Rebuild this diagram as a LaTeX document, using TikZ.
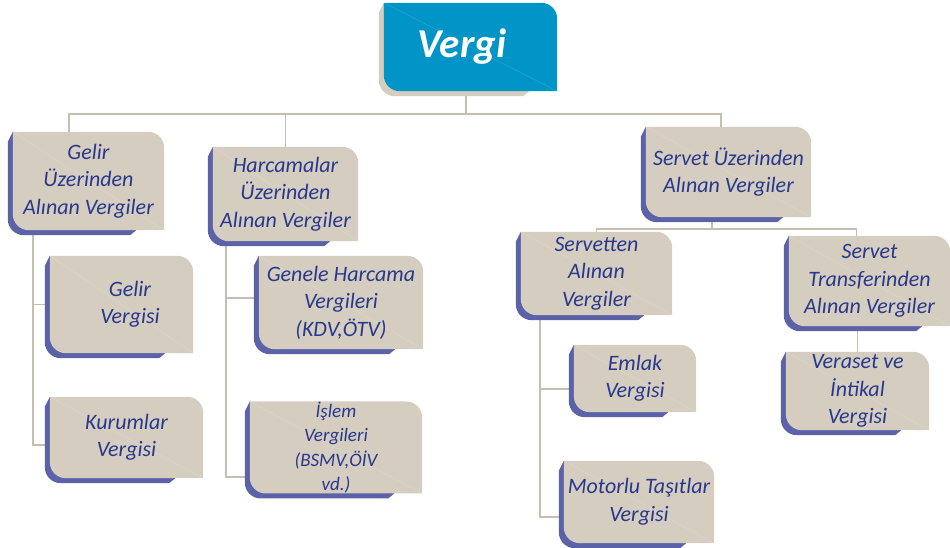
\documentclass[tikz,border=0pt]{standalone}
\usepackage{fontspec}
\setmainfont{Carlito}
\usetikzlibrary{backgrounds}
\pgfdeclarelayer{arka}
\pgfsetlayers{arka,background,main}

\definecolor{kutubej}{RGB}{213,205,191}
\definecolor{golgemavi}{RGB}{92,98,168}
\definecolor{yazimavi}{RGB}{40,56,140}
\definecolor{anamavi}{RGB}{0,148,199}
\definecolor{cizgibej}{RGB}{198,190,176}

% box: shadow, fill with two round corners, faint diagonal
\newcommand{\kutuciz}[3]{%
  \begin{pgfonlayer}{background}
    \fill[#3] ([xshift=-5pt,yshift=-10pt]#1.north west) -- ([xshift=-5pt,yshift=11pt]#1.south west)
      arc[start angle=180,end angle=270,radius=16pt] -- ([xshift=-34pt,yshift=-5pt]#1.south east)
      -- ([xshift=-28pt]#1.south east) -- (#1.north west) -- cycle;
    \fill[#2] (#1.north west) -- ([xshift=-16pt]#1.north east)
      arc[start angle=90,end angle=0,radius=16pt] -- (#1.south east)
      -- ([xshift=16pt]#1.south west) arc[start angle=270,end angle=180,radius=16pt] -- cycle;
    \draw[white, opacity=0.2, line width=0.4pt] (#1.north west) -- (#1.south east);
  \end{pgfonlayer}}

\begin{document}
\begin{tikzpicture}[x=1pt, y=1pt,
    kutu/.style={align=center, inner sep=0pt, text=yazimavi,
      font=\fontsize{22}{27.5}\selectfont\itshape},
    baglanti/.style={cizgibej, line width=1.5pt}]
  \useasboundingbox (0,0) rectangle (950,548);
  % TOP
  \node[align=center, inner sep=0pt, text=white, font=\fontsize{41}{41}\selectfont\bfseries\itshape,
    minimum width=173pt, minimum height=88pt] (vergi) at (470.5,501) {\hspace*{-17pt}Vergi};
  \kutuciz{vergi}{anamavi}{kutubej}
  % FIRST ROW
  \node[kutu, minimum width=151pt, minimum height=98pt] (gelir) at (88.5,367) {Gelir\\Üzerinden\\Alınan Vergiler};
  \node[kutu, minimum width=145pt, minimum height=94pt] (harcama) at (285.5,354) {Harcamalar\\Üzerinden\\Alınan Vergiler};
  \node[kutu, minimum width=165pt, minimum height=90pt] (servet) at (728.5,376) {Servet Üzerinden\\Alınan Vergiler};
  % LEFT COLUMN
  \node[kutu, minimum width=143pt, minimum height=97pt] (gelirv) at (121.5,243.5) {\hspace*{17pt}Gelir\\\hspace*{17pt}Vergisi};
  \node[kutu, minimum width=153pt, minimum height=81pt] (kurumlar) at (126.5,110.5) {Kurumlar\\Vergisi};
  % MIDDLE COLUMN
  \node[kutu, minimum width=164pt, minimum height=93pt] (genele) at (341,245.5) {Genele Harcama\\Vergileri\\(KDV,ÖTV)};
  \node[kutu, minimum width=172pt, minimum height=89pt, font=\fontsize{19}{24.5}\selectfont\itshape]
    (islem) at (336,100.5) {İşlem\\Vergileri\\(BSMV,ÖİV\\vd.)};
  % RIGHT PART
  \node[kutu, minimum width=151pt, minimum height=83pt] (servetten) at (596.5,274.5) {Servetten\\Alınan\\Vergiler};
  \node[kutu, minimum width=161pt, minimum height=90pt] (transfer) at (869.5,267) {Servet\\Transferinden\\Alınan Vergiler};
  \node[kutu, minimum width=122pt, minimum height=67pt] (emlak) at (635,169.5) {Emlak\\Vergisi};
  \node[kutu, minimum width=150pt, minimum height=82pt] (motorlu) at (639,46) {Motorlu Taşıtlar\\Vergisi};
  \node[kutu, minimum width=143pt, minimum height=78pt] (veraset) at (857.5,157) {Veraset ve\\İntikal\\Vergisi};
  \foreach \k in {gelir,harcama,servet,gelirv,kurumlar,genele,islem,servetten,transfer,emlak,motorlu,veraset}
    {\kutuciz{\k}{kutubej}{golgemavi}}
  % WIRES
  \coordinate (ust) at (466,434);
  \coordinate (sbar) at (712,319);
  \begin{pgfonlayer}{arka}
    \draw[baglanti] ([xshift=-4.5pt]vergi.south) -- (ust);
    \draw[baglanti] ([xshift=-19.5pt]gelir.north) |- (ust) -| ([xshift=-7.5pt]servet.north);
    \draw[baglanti] (harcama.north) -- (harcama.north |- ust);
    \draw[baglanti] ([xshift=20pt]gelir.south west) |- ([xshift=-5pt]gelirv.west);
    \draw[baglanti] ([xshift=20pt]gelir.south west) |- ([xshift=-5pt,yshift=-7.5pt]kurumlar.west);
    \draw[baglanti] ([xshift=13pt]harcama.south west) |- ([xshift=-5pt,yshift=4.5pt]genele.west);
    \draw[baglanti] ([xshift=13pt]harcama.south west) |- ([xshift=-5pt,yshift=-29.5pt]islem.west);
    \draw[baglanti] ([xshift=-16.5pt]servet.south) -- (sbar);
    \draw[baglanti] (servetten.north) |- (sbar) -| ([xshift=-13pt]transfer.north);
    \draw[baglanti] ([xshift=19pt]servetten.south west) |- ([xshift=-5pt,yshift=-10.5pt]emlak.west);
    \draw[baglanti] ([xshift=19pt]servetten.south west) |- ([xshift=-5pt,yshift=-15pt]motorlu.west);
    \draw[baglanti] (veraset.north) -- (veraset.north |- transfer.south);
  \end{pgfonlayer}
\end{tikzpicture}
\end{document}
